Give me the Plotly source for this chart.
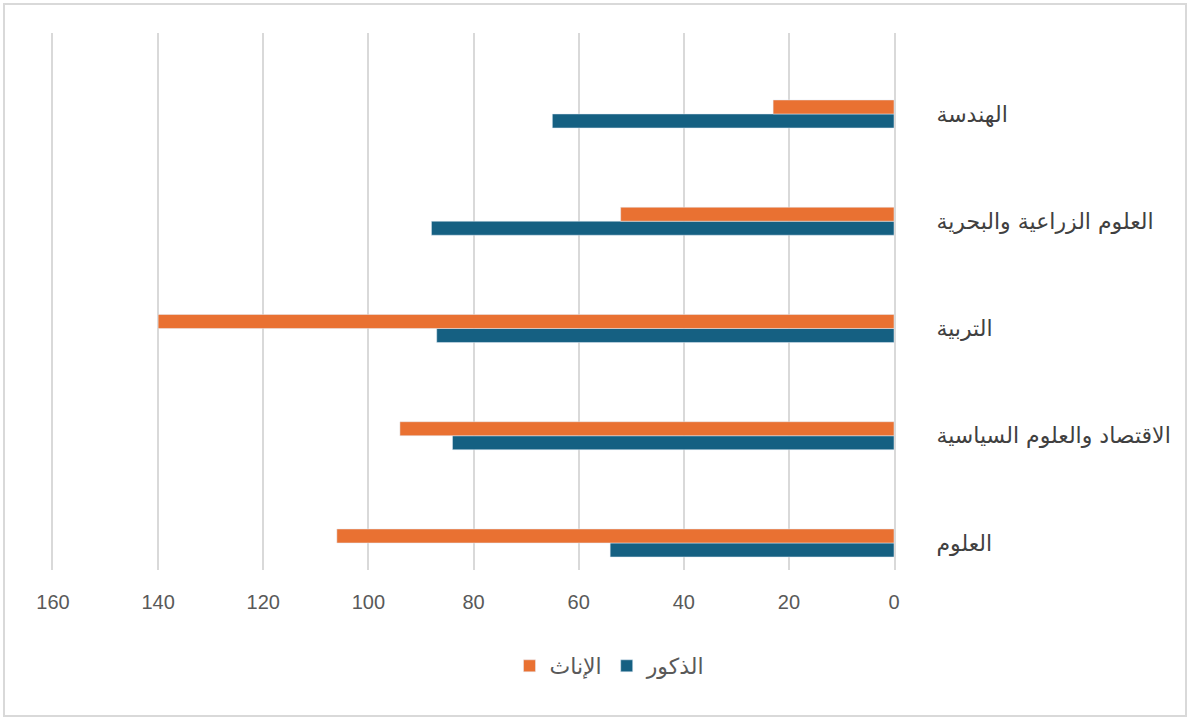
import plotly.graph_objects as go

categories = ["العلوم", "الاقتصاد والعلوم السياسية", "التربية", "العلوم الزراعية والبحرية", "الهندسة"]
males = [54, 84, 87, 88, 65]
females = [106, 94, 140, 52, 23]
x_ticks = [0, 20, 40, 60, 80, 100, 120, 140, 160]

BLUE = "#156082"
ORANGE = "#E97132"

fig = go.Figure()
fig.add_trace(go.Bar(
    y=categories, x=males, orientation="h", name="الذكور",
    marker=dict(color=BLUE), legendrank=2,
))
fig.add_trace(go.Bar(
    y=categories, x=females, orientation="h", name="الإناث",
    marker=dict(color=ORANGE), legendrank=1,
))

L, R, T, B = 53, 294, 33, 148
W, H = 1188, 718
pw, ph = W - L - R, H - T - B

fig.update_layout(
    width=W, height=H,
    margin=dict(l=L, r=R, t=T, b=B),
    paper_bgcolor="white", plot_bgcolor="white",
    barmode="group", bargap=0.739, bargroupgap=0,
    font=dict(family="Liberation Sans, Arial, sans-serif", color="#595959", size=20),
    legend=dict(
        orientation="h", x=(610 - L) / pw, xanchor="center",
        y=(T + ph - 666) / ph, yanchor="middle",
        font=dict(family="DejaVu Sans", size=22, color="#595959"),
        itemwidth=30, traceorder="normal",
    ),
    xaxis=dict(
        range=[160, 0], tickvals=x_ticks, showgrid=True,
        gridcolor="#D9D9D9", gridwidth=2, zeroline=False, showline=False,
        ticks="", ticklabelstandoff=18,
        tickfont=dict(family="Liberation Sans, Arial, sans-serif", size=20, color="#595959"),
    ),
    yaxis=dict(
        side="right", categoryorder="array", categoryarray=categories,
        range=[-0.252, 4.755], showgrid=False, zeroline=False,
        showline=True, mirror=True, linecolor="#D9D9D9", linewidth=2,
        ticks="", ticklabelstandoff=36,
        tickfont=dict(family="DejaVu Sans", size=22, color="#404040"),
    ),
    shapes=[dict(
        type="rect", xref="paper", yref="paper",
        x0=(4 - L) / pw, x1=(1186 - L) / pw,
        y0=(T + ph - 716) / ph, y1=(T + ph - 4) / ph,
        line=dict(color="#D9D9D9", width=2), fillcolor="rgba(0,0,0,0)", layer="below",
    )],
)

fig.write_html("out.html")
